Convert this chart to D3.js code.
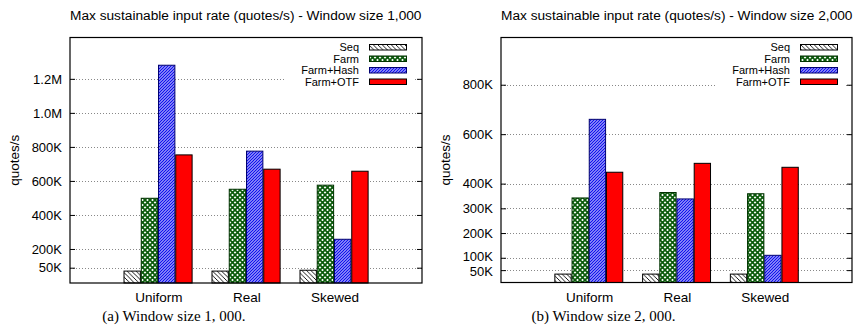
<!DOCTYPE html>
<html><head><meta charset="utf-8">
<script src="https://cdn.jsdelivr.net/npm/d3@7/dist/d3.min.js"></script>
<style>
body{margin:0;background:#fff;}
svg{display:block;}
text{font-family:"Liberation Sans",Arial,sans-serif;fill:#000;}
.cap{font-family:"Liberation Serif","Times New Roman",serif;}
</style></head>
<body>
<svg id="c" width="854" height="336"></svg>
<script>
const categories = ["Uniform","Real","Skewed"];
const seriesNames = ["Seq","Farm","Farm+Hash","Farm+OTF"];
// window size 1,000
const seqA  = [70000, 70000, 75000];
const farmA = [498000, 551000, 575000];
const hashA = [1280000, 775000, 257000];
const otfA  = [753000, 669000, 657000];
// window size 2,000
const seqB  = [34000, 34000, 34000];
const farmB = [342000, 364000, 359000];
const hashB = [660000, 338000, 110000];
const otfB  = [446000, 482000, 466000];

const tickValsA = [90000, 200000, 400000, 600000, 800000, 1000000, 1200000];
const tickLabsA = ["50K","200K","400K","600K","800K","1.0M","1.2M"];
const tickValsB = [50000, 100000, 200000, 300000, 400000, 600000, 800000];
const tickLabsB = ["50K","100K","200K","300K","400K","600K","800K"];
const yMaxA = 1443000, yMaxB = 991000;

const titleA = "Max sustainable input rate (quotes/s) - Window size 1,000";
const titleB = "Max sustainable input rate (quotes/s) - Window size 2,000";
const captionA = "(a) Window size 1, 000.";
const captionB = "(b) Window size 2, 000.";
const yLabel = "quotes/s";

const svg = d3.select("#c");
const defs = svg.append("defs");
// patterns
const pSeq = defs.append("pattern").attr("id","pSeq").attr("patternUnits","userSpaceOnUse").attr("width",4.5).attr("height",4.5);
pSeq.append("rect").attr("width",4.5).attr("height",4.5).attr("fill","#fff");
pSeq.append("path").attr("d","M-1,-1 L5.5,5.5 M3.5,-1 L5.5,1 M-1,3.5 L1,5.5").attr("stroke","#000").attr("stroke-width",0.9);
const pFarm = defs.append("pattern").attr("id","pFarm").attr("patternUnits","userSpaceOnUse").attr("width",5).attr("height",5);
pFarm.append("rect").attr("width",5).attr("height",5).attr("fill","#fff");
pFarm.append("path").attr("d","M0,0 L5,5 M5,0 L0,5").attr("stroke","#0a5a0a").attr("stroke-width",1.7);
const pHash = defs.append("pattern").attr("id","pHash").attr("patternUnits","userSpaceOnUse").attr("width",3).attr("height",3);
pHash.append("rect").attr("width",3).attr("height",3).attr("fill","#fff");
pHash.append("path").attr("d","M-1,4 L4,-1 M-1,1 L1,-1 M2,4 L4,2").attr("stroke","#1010ee").attr("stroke-width",1.5);

const fills = ["url(#pSeq)","url(#pFarm)","url(#pHash)","#ff0000"];
const strokes = ["#000","#003300","#000070","#000"];

function panel(opt){
  const g = svg.append("g");
  const x = d3.scaleLinear().domain([0,4]).range([opt.x0, opt.x1]);
  const y = d3.scaleLinear().domain([0,opt.yMax]).range([opt.yb, opt.yt]);
  const series = [opt.seq, opt.farm, opt.hash, opt.otf];
  // grid
  g.selectAll(".grid").data(opt.ticks).enter().append("line")
    .attr("x1",opt.x0).attr("x2",opt.x1)
    .attr("y1",d=>Math.round(y(d))+0.5).attr("y2",d=>Math.round(y(d))+0.5)
    .attr("stroke","#888").attr("stroke-width",1).attr("stroke-dasharray","1,2");
  // legend background
  g.append("rect").attr("x",opt.x0+216).attr("y",opt.yt+1).attr("width",128).attr("height",52).attr("fill","#fff");
  // axis with ticks inward
  const ax = d3.axisLeft(y).tickValues(opt.ticks).tickFormat((d,i)=>opt.labels[i]).tickSize(-5).tickPadding(8);
  const ag = g.append("g").attr("transform",`translate(${opt.x0},0)`).call(ax);
  ag.select(".domain").remove();
  const fs = 13;
  ag.selectAll("text").attr("font-size",fs).attr("font-family","Liberation Sans, Arial, sans-serif").attr("fill","#000");
  ag.selectAll("line").attr("stroke","#000");
  // separate labels of ticks that sit too close together
  const tv = opt.ticks.slice().sort((a,b)=>a-b);
  ag.selectAll(".tick").each(function(d){
    const i = tv.indexOf(d);
    let shift = 0;
    if (i>0 && y(tv[i-1]) - y(d) < fs*1.15) shift -= 1.6;
    if (i<tv.length-1 && y(d) - y(tv[i+1]) < fs*1.15) shift += 1.6;
    d3.select(this).select("text").attr("y", shift);
  });
  const ar = d3.axisRight(y).tickValues(opt.ticks).tickFormat("").tickSize(-5);
  const arg = g.append("g").attr("transform",`translate(${opt.x1},0)`).call(ar);
  arg.select(".domain").remove();
  arg.selectAll("line").attr("stroke","#000");
  // bars
  const slot = 0.196, bw = 0.186;
  series.forEach((vals,si)=>{
    g.selectAll(".b"+si).data(vals).enter().append("rect")
      .attr("x",(d,i)=>x(i+1+(si-2)*slot)+0.5)
      .attr("width",x(bw)-x(0))
      .attr("y",d=>y(d))
      .attr("height",d=>y(0)-y(d))
      .attr("fill",fills[si]).attr("stroke",strokes[si]).attr("stroke-width",1);
  });
  // category labels
  g.selectAll(".cat").data(categories).enter().append("text")
    .attr("x",(d,i)=>x(i+1)+1).attr("y",opt.yb+19)
    .attr("text-anchor","middle").attr("font-size",13.5).text(d=>d);
  // frame
  g.append("rect").attr("x",opt.x0).attr("y",opt.yt).attr("width",opt.x1-opt.x0).attr("height",opt.yb-opt.yt)
    .attr("fill","none").attr("stroke","#000").attr("stroke-width",1.2);
  // legend
  const rows = [47,58.5,70,81.5];
  seriesNames.forEach((n,si)=>{
    g.append("text").attr("x",opt.x0+289).attr("y",rows[si]+4).attr("text-anchor","end").attr("font-size",11).text(n);
    g.append("rect").attr("x",opt.x0+299.5).attr("y",rows[si]-2.5).attr("width",37).attr("height",5.5)
      .attr("fill",fills[si]).attr("stroke",strokes[si]).attr("stroke-width",1);
  });
  // title
  g.append("text").attr("x",opt.x0).attr("y",20).attr("font-size",13.7).text(opt.title);
  // y label
  g.append("text").attr("transform",`translate(${opt.x0-51},${(opt.yt+opt.yb)/2}) rotate(-90)`)
    .attr("text-anchor","middle").attr("font-size",13.5).text(yLabel);
  // caption
  g.append("text").attr("class","cap").attr("x",opt.capX).attr("y",321).attr("text-anchor","middle")
    .attr("font-size",15).text(opt.caption);
}

panel({x0:70,x1:422,yt:37.5,yb:283,yMax:yMaxA,seq:seqA,farm:farmA,hash:hashA,otf:otfA,
  ticks:tickValsA,labels:tickLabsA,title:titleA,caption:captionA,capX:174});
panel({x0:501,x1:852,yt:37.5,yb:282.5,yMax:yMaxB,seq:seqB,farm:farmB,hash:hashB,otf:otfB,
  ticks:tickValsB,labels:tickLabsB,title:titleB,caption:captionB,capX:603.5});
</script>
</body></html>
